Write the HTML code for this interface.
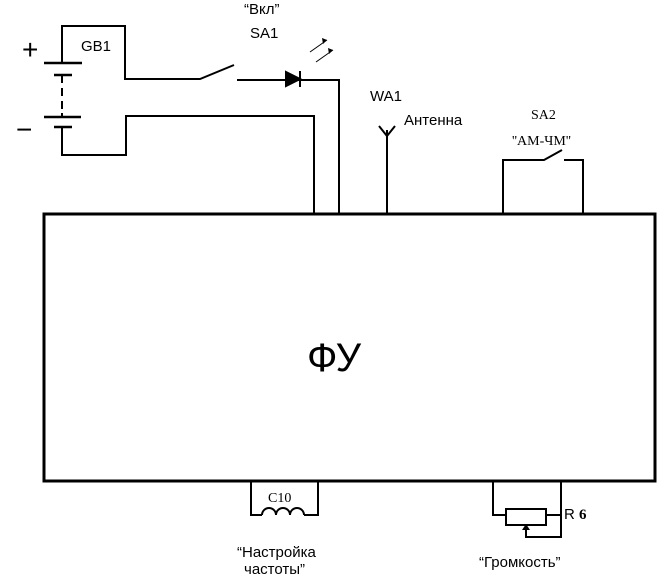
<!DOCTYPE html><html><head><style>body{margin:0;background:#fff}svg{display:block}</style></head><body>
<svg width="669" height="581" viewBox="0 0 669 581" font-family="Liberation Sans, sans-serif">
<g stroke="#000" stroke-width="2" fill="none">
<rect x="44" y="214" width="611" height="267" stroke-width="3"/>
<path d="M62 63V26H125V79H200L234 65"/>
<path d="M237 80H339V214"/>
<path d="M62 127V155H126V116H314V214"/>
<path d="M44 63H82M54 75H72M44 117H81M54 127H72" stroke-width="2.5"/>
<path d="M62 75V83M62 88V96M62 101V109M62 113V117"/>
<path d="M286 72L300 79L286 86Z" fill="#000"/><path d="M300 71V87"/>
<path d="M310 52L327 40M316 62L333 50" stroke-width="1"/>
<path d="M387 130V214M379 126L387 136L395 126"/>
<path d="M503 214V160H544L562 150M564 160H583V214"/>
<path d="M251 481V515H262M304 515H318V481"/>
<path d="M262 515a5.2 5.2 0 0 1 14 0a5.2 5.2 0 0 1 14 0a5.2 5.2 0 0 1 14 0"/>
<path d="M493 481V515H506M546 515H561V481M561 515V537H526V527"/>
<rect x="506" y="509" width="40" height="16"/>
</g>
<path d="M322 38L327 40L323 44ZM328 48L333 50L329 54Z" fill="#000"/>
<path d="M522 530L526 524L530 530Z" fill="#000"/>
<g font-size="15" fill="#000">
<text x="22" y="59" font-size="28">+</text>
<text x="16" y="139" font-size="28">−</text>
<text x="81" y="51">GB1</text>
<text x="244" y="14">“Вкл”</text>
<text x="250" y="38">SA1</text>
<text x="370" y="101">WA1</text>
<text x="404" y="125">Антенна</text>
<text x="531" y="119" font-family="Liberation Serif, serif" font-size="14">SA2</text>
<text x="512" y="145" font-family="Liberation Serif, serif" font-size="14">''АМ-ЧМ''</text>
<text x="307" y="371" font-size="40">ФУ</text>
<text x="268" y="502" font-family="Liberation Serif, serif" font-size="14">C10</text>
<text x="564" y="519">R <tspan font-family="Liberation Serif, serif" font-weight="bold">6</tspan></text>
<text x="237" y="557">“Настройка</text>
<text x="244" y="574">частоты”</text>
<text x="479" y="567">“Громкость”</text>
</g>
</svg></body></html>
